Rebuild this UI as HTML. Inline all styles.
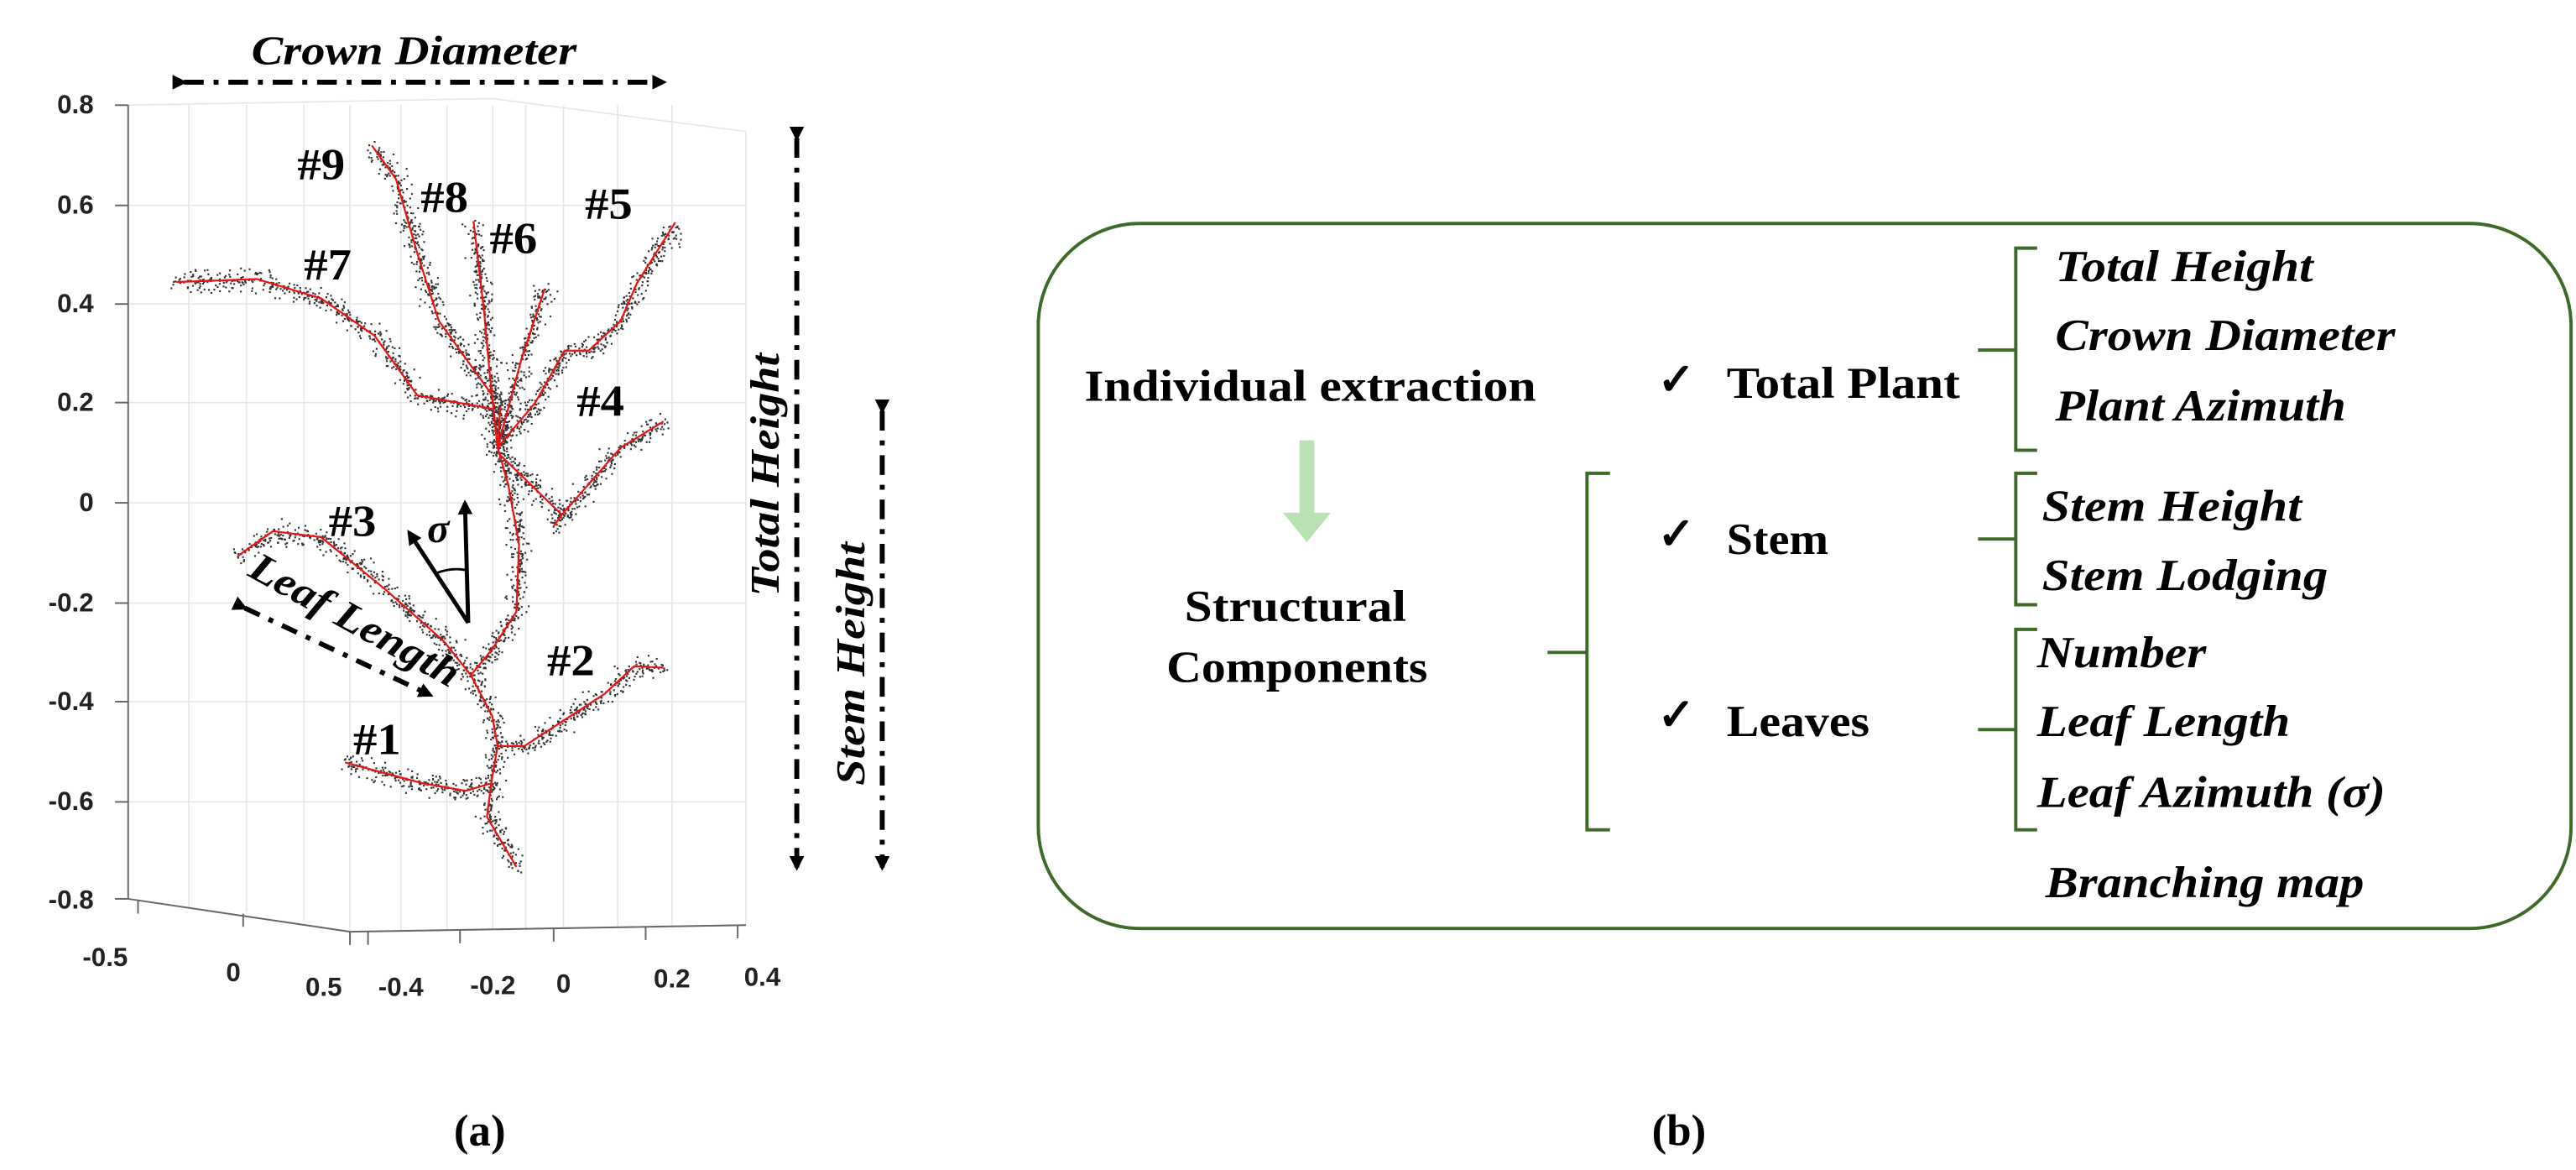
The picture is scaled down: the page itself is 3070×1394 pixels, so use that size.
<!DOCTYPE html>
<html><head><meta charset="utf-8"><style>
html,body{margin:0;padding:0;background:#fff;}
svg{display:block;}
.ax{font-family:"Liberation Sans",sans-serif;font-weight:bold;font-size:16px;fill:#222;}
.lb{font-family:"Liberation Serif",serif;font-weight:bold;font-size:27px;fill:#000;}
.bi{font-family:"Liberation Serif",serif;font-weight:bold;font-style:italic;font-size:25px;fill:#000;}
.t{font-family:"Liberation Serif",serif;font-weight:bold;font-size:27px;fill:#000;}
.ti{font-family:"Liberation Serif",serif;font-weight:bold;font-style:italic;font-size:27px;fill:#000;}
</style></head><body>
<svg id="s" width="3070" height="1394" viewBox="0 0 1568 712" xmlns="http://www.w3.org/2000/svg">
<defs>
<marker id="ah" markerWidth="9" markerHeight="9" refX="7" refY="4.5" orient="auto" markerUnits="userSpaceOnUse"><path d="M0,0 L9,4.5 L0,9 Z" fill="#000"/></marker>
</defs>
<rect width="1568" height="712" fill="#fff"/>
<g stroke="#e6e6e6" stroke-width="0.8" fill="none">
<polyline points="78,64 300,60 454,80"/><line x1="78" y1="125" x2="454" y2="125"/><line x1="78" y1="185" x2="454" y2="185"/><line x1="78" y1="245" x2="454" y2="245"/><line x1="78" y1="306" x2="454" y2="306"/><line x1="78" y1="367" x2="454" y2="367"/><line x1="78" y1="427" x2="454" y2="427"/><line x1="78" y1="488" x2="454" y2="488"/>
<line x1="115" y1="64" x2="115" y2="552"/><line x1="150" y1="64" x2="150" y2="555"/><line x1="185" y1="64" x2="185" y2="560"/><line x1="213" y1="64" x2="213" y2="567"/><line x1="244" y1="64" x2="244" y2="567"/><line x1="272" y1="64" x2="272" y2="566"/><line x1="300" y1="64" x2="300" y2="566"/><line x1="320" y1="64" x2="320" y2="565"/><line x1="343" y1="64" x2="343" y2="565"/><line x1="376" y1="64" x2="376" y2="564"/><line x1="409" y1="64" x2="409" y2="564"/><line x1="454" y1="80" x2="454" y2="563"/>
</g>
<g stroke="#666" stroke-width="1" fill="none">
<line x1="78" y1="64" x2="78" y2="547"/>
<polyline points="78,547 213,567 454,563"/>
<line x1="70" y1="64" x2="78" y2="64"/><line x1="70" y1="125" x2="78" y2="125"/><line x1="70" y1="185" x2="78" y2="185"/><line x1="70" y1="245" x2="78" y2="245"/><line x1="70" y1="306" x2="78" y2="306"/><line x1="70" y1="367" x2="78" y2="367"/><line x1="70" y1="427" x2="78" y2="427"/><line x1="70" y1="488" x2="78" y2="488"/><line x1="70" y1="547" x2="78" y2="547"/>
<line x1="84" y1="548" x2="84" y2="556"/><line x1="148" y1="556" x2="148" y2="564"/><line x1="213" y1="567" x2="213" y2="575"/>
<line x1="224" y1="567" x2="224" y2="575"/><line x1="280" y1="566" x2="280" y2="574"/><line x1="337" y1="565" x2="337" y2="573"/><line x1="393" y1="564" x2="393" y2="572"/><line x1="449" y1="563" x2="449" y2="571"/>
</g>
<g class="ax" text-anchor="end">
<text x="57" y="69">0.8</text><text x="57" y="130">0.6</text><text x="57" y="190">0.4</text><text x="57" y="250">0.2</text><text x="57" y="311">0</text><text x="57" y="372">-0.2</text><text x="57" y="432">-0.4</text><text x="57" y="493">-0.6</text><text x="57" y="553">-0.8</text>
</g>
<g class="ax" text-anchor="middle">
<text x="64" y="588">-0.5</text><text x="142" y="597">0</text><text x="197" y="606">0.5</text><text x="244" y="606">-0.4</text><text x="300" y="605">-0.2</text><text x="343" y="604">0</text><text x="409" y="601">0.2</text><text x="464" y="600">0.4</text>
</g>
<g id="dots" fill="#333"></g>
<g id="red" transform="scale(0.3257,0.4540)" stroke="#f01010" stroke-width="2.2" fill="none" stroke-linejoin="round">
<polyline vector-effect="non-scaling-stroke" points="965,1162 910,1095 918,1050 930,1000 920,960 880,905 920,870 965,820 970,730 950,650 930,600 935,545"/>
<polyline vector-effect="non-scaling-stroke" points="695,195 740,240 780,340 820,430 870,480 920,530 930,600"/>
<polyline vector-effect="non-scaling-stroke" points="885,297 905,420 915,500 930,600"/>
<polyline vector-effect="non-scaling-stroke" points="1018,387 975,480 930,600"/>
<polyline vector-effect="non-scaling-stroke" points="1262,298 1190,380 1160,430 1100,470 1055,470 1000,540 930,600"/>
<polyline vector-effect="non-scaling-stroke" points="330,378 480,374 600,400 700,450 780,530 920,548"/>
<polyline vector-effect="non-scaling-stroke" points="1240,565 1160,600 1050,690 1035,705"/>
<polyline vector-effect="non-scaling-stroke" points="935,610 1050,690"/>
<polyline vector-effect="non-scaling-stroke" points="445,745 510,712 600,720 720,790 830,860 880,905"/>
<polyline vector-effect="non-scaling-stroke" points="1240,895 1185,893 1130,930 980,1000 930,1000"/>
<polyline vector-effect="non-scaling-stroke" points="645,1022 790,1050 870,1060 918,1050"/>
</g>
<g class="lb" lengthAdjust="spacingAndGlyphs">
<text x="181" y="109" textLength="29" lengthAdjust="spacingAndGlyphs">#9</text><text x="256" y="129" textLength="29" lengthAdjust="spacingAndGlyphs">#8</text><text x="298" y="154" textLength="29" lengthAdjust="spacingAndGlyphs">#6</text><text x="356" y="133" textLength="29" lengthAdjust="spacingAndGlyphs">#5</text><text x="185" y="170" textLength="29" lengthAdjust="spacingAndGlyphs">#7</text><text x="351" y="253" textLength="29" lengthAdjust="spacingAndGlyphs">#4</text><text x="200" y="326" textLength="29" lengthAdjust="spacingAndGlyphs">#3</text><text x="333" y="411" textLength="29" lengthAdjust="spacingAndGlyphs">#2</text><text x="215" y="459" textLength="29" lengthAdjust="spacingAndGlyphs">#1</text>
</g>
<text class="bi" x="153" y="39" textLength="198" lengthAdjust="spacingAndGlyphs">Crown Diameter</text>
<line x1="112" y1="50" x2="404" y2="50" stroke="#000" stroke-width="3" stroke-dasharray="12,6,3,6" marker-start="url(#ah)" marker-end="url(#ah)"/>
<line x1="485" y1="84" x2="485" y2="528" stroke="#000" stroke-width="3" stroke-dasharray="12,6,3,6" marker-start="url(#ah)" marker-end="url(#ah)"/>
<text class="bi" transform="translate(474,363) rotate(-90)" textLength="148" lengthAdjust="spacingAndGlyphs">Total Height</text>
<line x1="537" y1="250" x2="537" y2="528" stroke="#000" stroke-width="3" stroke-dasharray="12,6,3,6" marker-start="url(#ah)" marker-end="url(#ah)"/>
<text class="bi" transform="translate(526,478) rotate(-90)" textLength="148" lengthAdjust="spacingAndGlyphs">Stem Height</text>
<text class="bi" transform="translate(150,350) rotate(29)" textLength="142" lengthAdjust="spacingAndGlyphs">Leaf Length</text>
<line x1="149" y1="370" x2="262" y2="423" stroke="#000" stroke-width="3" stroke-dasharray="10,6,3,6" marker-start="url(#ah)" marker-end="url(#ah)"/>
<line x1="285" y1="379" x2="283" y2="306" stroke="#000" stroke-width="2.5" marker-end="url(#ah)"/>
<line x1="285" y1="379" x2="249" y2="324" stroke="#000" stroke-width="2.5" marker-end="url(#ah)"/>
<path d="M265,349 Q275,345 284,347" stroke="#000" stroke-width="1.5" fill="none"/>
<text class="bi" x="260" y="330" font-size="20">σ</text>
<text class="lb" x="292" y="697" text-anchor="middle" font-size="22">(a)</text>
<text class="lb" x="1022" y="697" text-anchor="middle" font-size="22">(b)</text>
<rect x="632" y="136" width="933" height="429" rx="62" ry="62" fill="none" stroke="#3b6b26" stroke-width="2"/>
<text class="t" x="660" y="244" textLength="275" lengthAdjust="spacingAndGlyphs">Individual extraction</text>
<rect x="791" y="268" width="9" height="46" fill="#b8e2b2"/>
<path d="M781,312 L810,312 L795.5,330 Z" fill="#b8e2b2"/>
<text class="t" x="721" y="378" textLength="135" lengthAdjust="spacingAndGlyphs">Structural</text>
<text class="t" x="710" y="415" textLength="159" lengthAdjust="spacingAndGlyphs">Components</text>
<g stroke="#3b6b26" stroke-width="2" fill="none">
<path d="M980,288 L966,288 L966,505 L980,505 M966,397 L942,397"/>
<path d="M1240,151 L1227,151 L1227,274 L1240,274 M1227,213 L1204,213"/>
<path d="M1240,288 L1227,288 L1227,368 L1240,368 M1227,328 L1204,328"/>
<path d="M1240,383 L1227,383 L1227,505 L1240,505 M1227,444 L1204,444"/>
</g>
<g class="t" font-size="22"><text x="1009" y="240">✓</text><text x="1009" y="334">✓</text><text x="1009" y="444">✓</text></g>
<text class="t" x="1051" y="242" textLength="142" lengthAdjust="spacingAndGlyphs">Total Plant</text>
<text class="t" x="1051" y="337" textLength="62" lengthAdjust="spacingAndGlyphs">Stem</text>
<text class="t" x="1051" y="448" textLength="87" lengthAdjust="spacingAndGlyphs">Leaves</text>
<text class="ti" x="1251" y="171" textLength="157" lengthAdjust="spacingAndGlyphs">Total Height</text>
<text class="ti" x="1251" y="213" textLength="207" lengthAdjust="spacingAndGlyphs">Crown Diameter</text>
<text class="ti" x="1251" y="256" textLength="177" lengthAdjust="spacingAndGlyphs">Plant Azimuth</text>
<text class="ti" x="1243" y="317" textLength="158" lengthAdjust="spacingAndGlyphs">Stem Height</text>
<text class="ti" x="1243" y="359" textLength="174" lengthAdjust="spacingAndGlyphs">Stem Lodging</text>
<text class="ti" x="1240" y="406" textLength="103" lengthAdjust="spacingAndGlyphs">Number</text>
<text class="ti" x="1240" y="448" textLength="154" lengthAdjust="spacingAndGlyphs">Leaf Length</text>
<text class="ti" x="1240" y="491" textLength="212" lengthAdjust="spacingAndGlyphs">Leaf Azimuth (σ)</text>
<text class="ti" x="1245" y="546" textLength="194" lengthAdjust="spacingAndGlyphs">Branching map</text>
</svg>
<script>
(function(){
var seed=7;function r(){seed=(seed*16807)%2147483647;return seed/2147483647;}
var ns="http://www.w3.org/2000/svg",g=document.getElementById("dots");
var pls=document.querySelectorAll("#red polyline");
pls.forEach(function(pl){
 var pts=pl.getAttribute("points").trim().split(/\s+/).map(function(p){var a=p.split(",");return [a[0]*0.3257,a[1]*0.4540];});
 for(var i=0;i<pts.length-1;i++){
  var a=pts[i],b=pts[i+1],L=Math.hypot(b[0]-a[0],b[1]-a[1]),n=Math.round(L*2.4);
  for(var k=0;k<n;k++){
   var t=r(),x=a[0]+(b[0]-a[0])*t+(r()-0.5)*(r()*18),y=a[1]+(b[1]-a[1])*t+(r()-0.5)*(r()*18);
   var c=document.createElementNS(ns,"rect");c.setAttribute("x",x.toFixed(1));c.setAttribute("y",y.toFixed(1));
   c.setAttribute("width","1.1");c.setAttribute("height","1.1");g.appendChild(c);
  }
 }
});
})();
</script>
</body></html>
